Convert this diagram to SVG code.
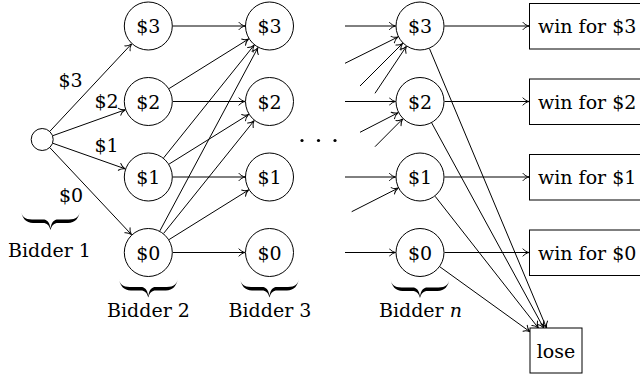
<svg xmlns="http://www.w3.org/2000/svg" width="640" height="377" viewBox="0 0 640 377">
<defs>
<style>
.n{fill:#fff;stroke:#000;stroke-width:1}
.b{fill:#fff;stroke:#000;stroke-width:1}
.m{text-anchor:middle}
.e{stroke:#000;stroke-width:1;fill:none;marker-end:url(#arr)}
</style>
<marker id="arr" markerUnits="userSpaceOnUse" orient="auto" viewBox="-7 -5 8 10" refX="0" refY="0" markerWidth="8" markerHeight="10">
<path d="M-6,-3.6 C-4.5,-1.6 -1.8,-0.4 0,0 C-1.8,0.4 -4.5,1.6 -6,3.6" fill="none" stroke="#000" stroke-width="1" stroke-linecap="round"/>
</marker>
<path id="brace" d="M0,0 C0.5,5 4,8.5 11,8.5 L22,8.5 C26,8.5 28.5,11 29.5,17.5 C30.5,11 33,8.5 37,8.5 L48,8.5 C55,8.5 58.5,5 59,0 C58,7 54,12 47,12 L37,12 C33,12 31,14 29.5,19 C28,14 26,12 22,12 L12,12 C5,12 1,7 0,0 Z"/>
</defs>
<rect width="640" height="377" fill="#fff"/>

<g id="connectors">
<line class="e" x1="50.05" y1="131.1" x2="131.57" y2="43.9"/>
<line class="e" x1="53.03" y1="135.62" x2="125.24" y2="109.76"/>
<line class="e" x1="53.04" y1="143.33" x2="125.2" y2="168.84"/>
<line class="e" x1="50.07" y1="147.88" x2="131.53" y2="234.64"/>

<line class="e" x1="172.8" y1="26" x2="245" y2="26"/>
<line class="e" x1="172.8" y1="101.5" x2="245" y2="101.5"/>
<line class="e" x1="172.8" y1="177" x2="245" y2="177"/>
<line class="e" x1="172.8" y1="252.5" x2="245" y2="252.5"/>
<line class="e" x1="169.1" y1="88.55" x2="248.7" y2="38.95"/>
<line class="e" x1="169.1" y1="164.05" x2="248.7" y2="114.45"/>
<line class="e" x1="169.1" y1="239.55" x2="248.7" y2="189.95"/>
<line class="e" x1="163.64" y1="157.89" x2="254.16" y2="45.11"/>
<line class="e" x1="163.64" y1="233.39" x2="254.16" y2="120.61"/>
<line class="e" x1="159.86" y1="230.9" x2="257.94" y2="47.6"/>

<line class="e" x1="345" y1="26" x2="395.5" y2="26"/>
<line class="e" x1="345" y1="63.3" x2="398.06" y2="36.91"/>
<line class="e" x1="360" y1="86" x2="402.68" y2="43.32"/>
<line class="e" x1="375" y1="93.3" x2="406.38" y2="46.37"/>
<line class="e" x1="345" y1="101.5" x2="395.5" y2="101.5"/>
<line class="e" x1="360" y1="132.3" x2="398.2" y2="112.69"/>
<line class="e" x1="375" y1="146.7" x2="402.72" y2="118.86"/>
<line class="e" x1="345" y1="177" x2="395.5" y2="177"/>
<line class="e" x1="351.7" y1="211.7" x2="398.16" y2="188.1"/>
<line class="e" x1="345" y1="252.5" x2="395.5" y2="252.5"/>

<line class="e" x1="444.5" y1="26" x2="529" y2="26"/>
<line class="e" x1="444.5" y1="101.5" x2="529" y2="101.5"/>
<line class="e" x1="444.5" y1="177" x2="529" y2="177"/>
<line class="e" x1="444.5" y1="252.5" x2="529" y2="252.5"/>
<line class="e" x1="429.47" y1="48.6" x2="546.57" y2="328"/>
<line class="e" x1="431.74" y1="123" x2="543.71" y2="328"/>
<line class="e" x1="435.11" y1="196.28" x2="538.36" y2="328"/>
<line class="e" x1="439.88" y1="266.82" x2="530" y2="331.77"/>
</g>

<g font-family="DejaVu Serif, Liberation Serif, serif" font-size="19" fill="#000">
<g id="edge-labels">
<text class="m" x="70.5" y="87">$3</text>
<text class="m" x="106.5" y="107.7">$2</text>
<text class="m" x="106.5" y="152">$1</text>
<text class="m" x="71" y="201.7">$0</text>
</g>

<g id="bidder1"><circle class="n" cx="42.2" cy="139.5" r="11"/></g>

<g id="b2-3"><circle class="n" cx="148.3" cy="26" r="24"/><text class="m" x="148.3" y="33">$3</text></g>
<g id="b2-2"><circle class="n" cx="148.3" cy="101.5" r="24"/><text class="m" x="148.3" y="108.5">$2</text></g>
<g id="b2-1"><circle class="n" cx="148.3" cy="177" r="24"/><text class="m" x="148.3" y="184">$1</text></g>
<g id="b2-0"><circle class="n" cx="148.3" cy="252.5" r="24"/><text class="m" x="148.3" y="259.5">$0</text></g>

<g id="b3-3"><circle class="n" cx="269.5" cy="26" r="24"/><text class="m" x="269.5" y="33">$3</text></g>
<g id="b3-2"><circle class="n" cx="269.5" cy="101.5" r="24"/><text class="m" x="269.5" y="108.5">$2</text></g>
<g id="b3-1"><circle class="n" cx="269.5" cy="177" r="24"/><text class="m" x="269.5" y="184">$1</text></g>
<g id="b3-0"><circle class="n" cx="269.5" cy="252.5" r="24"/><text class="m" x="269.5" y="259.5">$0</text></g>

<g id="dots"><circle cx="302" cy="140.5" r="1.6"/><circle cx="318.5" cy="140.5" r="1.6"/><circle cx="335" cy="140.5" r="1.6"/></g>

<g id="bn-3"><circle class="n" cx="420" cy="26" r="24"/><text class="m" x="420" y="33">$3</text></g>
<g id="bn-2"><circle class="n" cx="420" cy="101.5" r="24"/><text class="m" x="420" y="108.5">$2</text></g>
<g id="bn-1"><circle class="n" cx="420" cy="177" r="24"/><text class="m" x="420" y="184">$1</text></g>
<g id="bn-0"><circle class="n" cx="420" cy="252.5" r="24"/><text class="m" x="420" y="259.5">$0</text></g>

<g id="win3"><rect class="b" x="529.5" y="3.5" width="120" height="45.5"/><text x="538" y="33">win for $3</text></g>
<g id="win2"><rect class="b" x="529.5" y="79" width="120" height="45.5"/><text x="538" y="108.5">win for $2</text></g>
<g id="win1"><rect class="b" x="529.5" y="154.5" width="120" height="45.5"/><text x="538" y="184">win for $1</text></g>
<g id="win0"><rect class="b" x="529.5" y="230" width="120" height="45.5"/><text x="538" y="259.5">win for $0</text></g>
<g id="lose"><rect class="b" x="530" y="328" width="52" height="45"/><text class="m" x="556" y="358">lose</text></g>

<g id="bidder-labels">
<use href="#brace" x="21" y="211"/>
<use href="#brace" x="118.8" y="278.5"/>
<use href="#brace" x="240" y="278.5"/>
<use href="#brace" x="390.5" y="279"/>
<text class="m" x="49.5" y="257">Bidder 1</text>
<text class="m" x="148.5" y="317">Bidder 2</text>
<text class="m" x="270" y="317">Bidder 3</text>
<text class="m" x="420.5" y="317">Bidder <tspan font-style="italic">n</tspan></text>
</g>
</g>
</svg>
